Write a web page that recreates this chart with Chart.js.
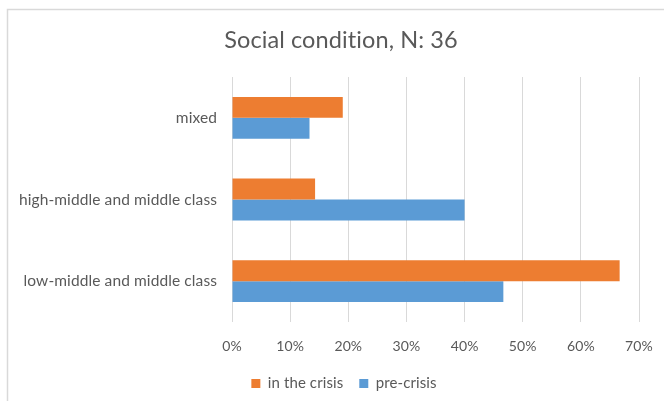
<!DOCTYPE html>
<html>
<head>
<meta charset="utf-8">
<script src="https://cdn.jsdelivr.net/npm/chart.js@4"></script>
<style>
  html, body { margin: 0; padding: 0; background: #fff; overflow: hidden; }
  #wrap { position: relative; width: 664px; height: 401px; }
</style>
</head>
<body>
<div id="wrap"><canvas id="c" width="664" height="401"></canvas></div>
<script>
const categories = ["mixed", "high-middle and middle class", "low-middle and middle class"];
const seriesNames = ["in the crisis", "pre-crisis"];
const inTheCrisis = [19.05, 14.29, 66.67];
const preCrisis = [13.33, 40.0, 46.67];
const tickValues = [0, 10, 20, 30, 40, 50, 60, 70];
const titleText = "Social condition, N: 36";

const FONT = "Lato, 'Open Sans', sans-serif";
const TXT = "#595959";

const noLigatures = {
  id: 'noLigatures',
  beforeLayout(chart) { chart.ctx.letterSpacing = '0.1px'; },
  beforeDraw(chart) { chart.ctx.letterSpacing = '0.1px'; }
};

const shiftBlocks = {
  id: 'shiftBlocks',
  afterLayout(chart) {
    const lg = chart.legend;
    if (lg) { lg.left += 7; lg.right += 7; }
    const tb = chart.titleBlock;
    if (tb) { tb.left += 4; tb.right += 4; }
  }
};

const borderPlugin = {
  id: 'outerBorder',
  beforeDraw(chart) {
    const ctx = chart.ctx;
    ctx.save();
    ctx.strokeStyle = '#d9d9d9';
    ctx.lineWidth = 1.5;
    ctx.beginPath();
    ctx.moveTo(7.5, chart.height);
    ctx.lineTo(7.5, 9.5);
    ctx.lineTo(chart.width, 9.5);
    ctx.stroke();
    ctx.restore();
  }
};

new Chart(document.getElementById('c'), {
  type: 'bar',
  data: {
    labels: categories,
    datasets: [
      { label: seriesNames[0], data: inTheCrisis, backgroundColor: '#ED7D31', borderWidth: 0 },
      { label: seriesNames[1], data: preCrisis, backgroundColor: '#5B9BD5', borderWidth: 0 }
    ]
  },
  options: {
    indexAxis: 'y',
    responsive: false,
    animation: false,
    devicePixelRatio: 1,
    layout: { padding: { left: 10, right: 0, top: 0, bottom: 0 } },
    categoryPercentage: 0.512,
    barPercentage: 1.0,
    scales: {
      x: {
        min: 0, max: 70,
        afterBuildTicks(scale) { scale.ticks = tickValues.map(v => ({ value: v })); },
        afterFit(scale) { scale.paddingRight = 25; scale.height = 38; },
        grid: { color: '#d9d9d9', lineWidth: 1, drawTicks: false },
        border: { display: false },
        ticks: {
          padding: 16,
          color: TXT,
          font: { family: FONT, size: 14 },
          callback: v => v + '%'
        }
      },
      y: {
        afterFit(scale) { scale.width = 222; },
        grid: { display: false, drawTicks: false },
        border: { display: false },
        ticks: {
          padding: 15,
          color: TXT,
          font: { family: FONT, size: 15.5 }
        }
      }
    },
    plugins: {
      title: {
        display: true,
        text: titleText,
        color: TXT,
        font: { family: FONT, size: 23.5, weight: 'normal', lineHeight: 1.2 },
        padding: { top: 25.9, bottom: 22.9 }
      },
      legend: {
        display: true,
        position: 'bottom',
        labels: {
          boxWidth: 9,
          boxHeight: 9,
          padding: 16,
          color: TXT,
          font: { family: FONT, size: 15 }
        }
      },
      tooltip: { enabled: false }
    }
  },
  plugins: [noLigatures, shiftBlocks, borderPlugin]
});
</script>
</body>
</html>
